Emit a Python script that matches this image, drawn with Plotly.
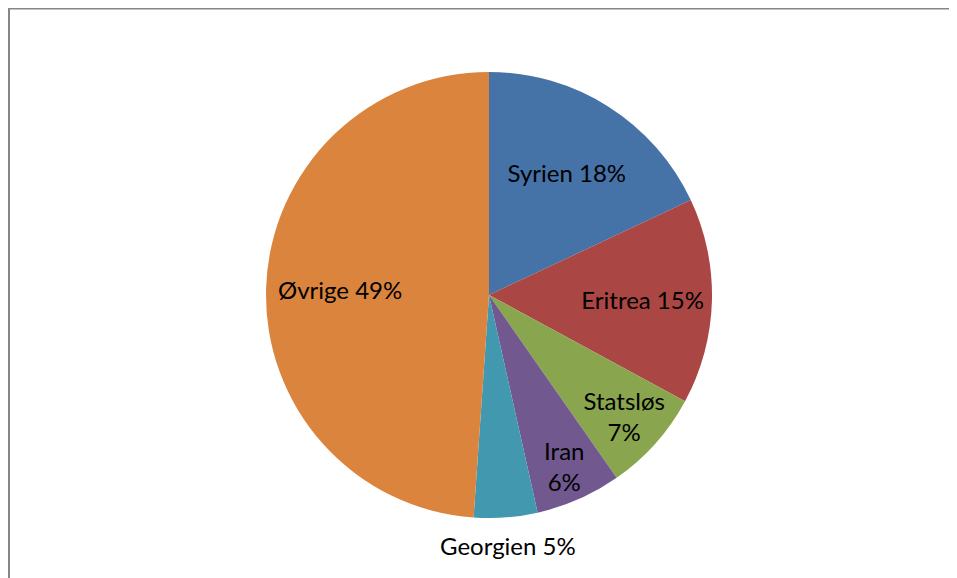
import numpy as np
import plotly.graph_objects as go

labels = ["Syrien", "Eritrea", "Statsløs", "Iran", "Georgien", "Øvrige"]
values = [18.0, 14.9, 7.4, 6.2, 4.6, 48.9]
colors = ["#4572A7", "#AA4643", "#89A54E", "#71588F", "#4198AF", "#DB843D"]
templates = ["%{label} %{percent:.0%}", "%{label} %{percent:.0%}",
             "%{label}<br>%{percent:.0%}", "%{label}<br>%{percent:.0%}",
             "", ""]
positions = ["inside", "inside", "inside", "inside", "none", "none"]

# page has an 8px body margin; figure sized to fill the rest of the 957x578 window
W, H = 949, 570
cx, cy, r = 481, 287, 223
FONT = "Lato, Carlito, sans-serif"
FS = 24

fig = go.Figure(go.Pie(
    labels=labels, values=values, sort=False, direction="clockwise", rotation=0,
    marker=dict(colors=colors, line=dict(width=0)),
    texttemplate=templates, textposition=positions,
    insidetextorientation="horizontal",
    textfont=dict(family=FONT, size=FS, color="black"),
    domain=dict(x=[(cx - r) / W, (cx + r) / W], y=[1 - (cy + r) / H, 1 - (cy - r) / H]),
    showlegend=False, hoverinfo="label+percent", automargin=False,
))

# labels for the two slices placed Excel-style, at the slice mid-angle
vals = np.array(values, dtype=float)
frac = vals / vals.sum()
mid = (np.cumsum(frac) - frac / 2) * 2 * np.pi
radial = {4: r + 28, 5: 0.67 * r}
annotations = []
for i, rho in radial.items():
    px = cx + rho * np.sin(mid[i])
    py = cy - rho * np.cos(mid[i])
    annotations.append(dict(
        x=px / W, y=1 - py / H, xref="paper", yref="paper", showarrow=False,
        text=f"{labels[i]} {round(frac[i] * 100):.0f}%",
        font=dict(family=FONT, size=FS, color="black"),
        xanchor="center", yanchor="middle",
    ))

fig.update_layout(
    width=W, height=H, margin=dict(l=0, r=0, t=0, b=0),
    paper_bgcolor="white", plot_bgcolor="white",
    uniformtext=dict(minsize=FS, mode="show"),
    annotations=annotations,
    shapes=[
        dict(type="line", xref="paper", yref="paper", x0=1 / W, x1=1.01, y0=1 - 0.5 / H, y1=1 - 0.5 / H,
             line=dict(color="#868686", width=2)),
        dict(type="line", xref="paper", yref="paper", x0=1 / W, x1=1 / W, y0=-0.01, y1=1,
             line=dict(color="#868686", width=2)),
    ],
)

fig.write_html("out.html")
